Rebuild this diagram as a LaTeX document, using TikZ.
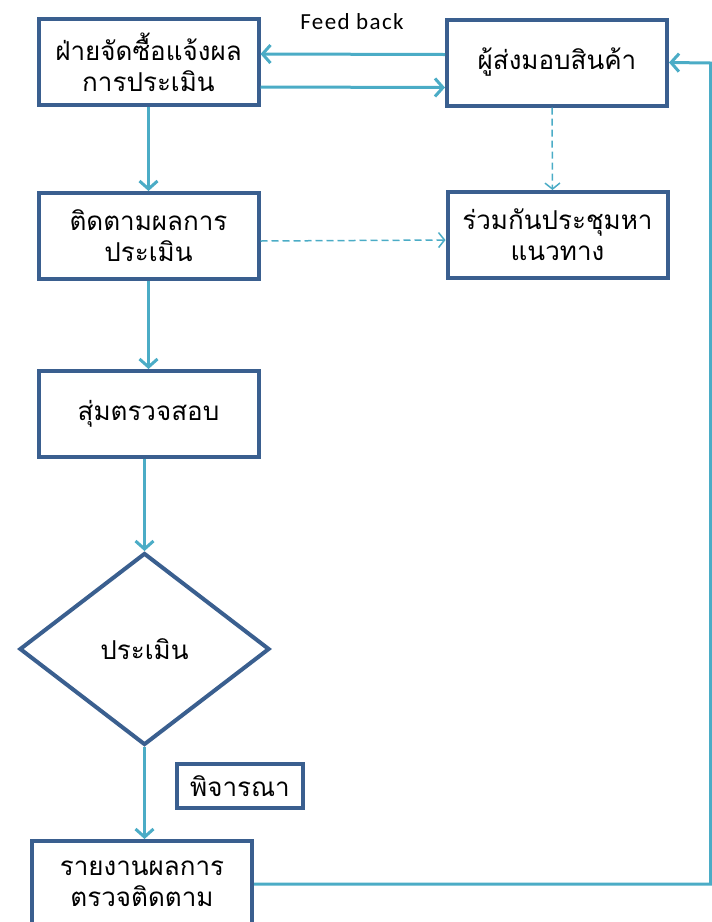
\documentclass[tikz,border=0pt]{standalone}
\usepackage{fontspec}
\setmainfont{Carlito}
\newfontfamily\thaifont[Script=Thai]{Loma}
\newfontfamily\labelfont[LetterSpace=6]{Carlito}
\usetikzlibrary{positioning}
\usetikzlibrary{shapes.geometric}
\usetikzlibrary{arrows.meta}
\definecolor{boxblue}{HTML}{3A5F8F}
\definecolor{flowcyan}{HTML}{4BACC6}

\begin{document}
\begin{tikzpicture}[x=1pt,y=1pt,
      box/.style={rectangle,draw=boxblue,line width=4pt,fill=white,minimum width=220pt,minimum height=86pt,align=center,font=\thaifont\fontsize{26}{31}\selectfont},
      decision/.style={diamond,draw=boxblue,line width=4pt,fill=white,minimum width=250pt,minimum height=192pt,inner sep=0pt,font=\thaifont\fontsize{26}{31}\selectfont},
      note/.style={rectangle,draw=boxblue,line width=4pt,fill=white,minimum width=126pt,minimum height=44pt,inner sep=0pt,font=\thaifont\fontsize{26}{31}\selectfont},
      flow/.style={draw=flowcyan,line width=3pt,-{Straight Barb[length=8pt,width=18pt]}},
      hint/.style={draw=flowcyan,line width=1.5pt,dash pattern=on 7pt off 4pt,-{Straight Barb[length=6pt,width=15pt]}},
  ]
  \useasboundingbox (0,0) rectangle (712,-922);

  % left column
  \node[box] (notify) at (148.5,-62) {ฝ่ายจัดซื้อแจ้งผล\\การประเมิน};
  \node[box, below=84pt of notify] (follow) {ติดตามผลการ\\ประเมิน};
  \node[box, below=88pt of follow] (sample) {สุ่มตรวจสอบ};
  \node[decision, below=92pt of sample, xshift=-4pt] (assess) {ประเมิน};
  \node[box, below=92pt of assess, xshift=-2.5pt] (report) {รายงานผลการ\\ตรวจติดตาม};
  \node[note] (consider) at (240,-786) {พิจารณา};

  % right column
  \node[box] (supplier) at (557,-62.5) {ผู้ส่งมอบสินค้า};
  \node[box] (meeting) at (557.5,-235) {ร่วมกันประชุมหา\\แนวทาง};
  \node (fb) at (352,-22) {\labelfont\fontsize{23}{26}\selectfont Feed back};

  % connectors
  \draw[flow] ([yshift=8pt]supplier.west) -- ([yshift=8pt]notify.east);
  \draw[flow] ([yshift=-25pt]notify.east) -- ([yshift=-25pt]supplier.west);
  \draw[flow] (notify.south) -- (follow.north);
  \draw[hint] ([xshift=-5pt]supplier.south) -- ([xshift=-5pt]meeting.north);
  \draw[hint] ([yshift=-5pt]follow.east) -- ([yshift=-5pt]meeting.west);
  \draw[flow] (follow.south) -- (sample.north);
  \draw[flow] (assess.north |- sample.south) -- (assess.north);
  \draw[flow] (assess.south) -- (assess.south |- report.north);

  % back to supplier
  \coordinate (rim) at (710.5,-63);
  \draw[flow] (report.east) -| (rim) -- (supplier.east);
\end{tikzpicture}
\end{document}
